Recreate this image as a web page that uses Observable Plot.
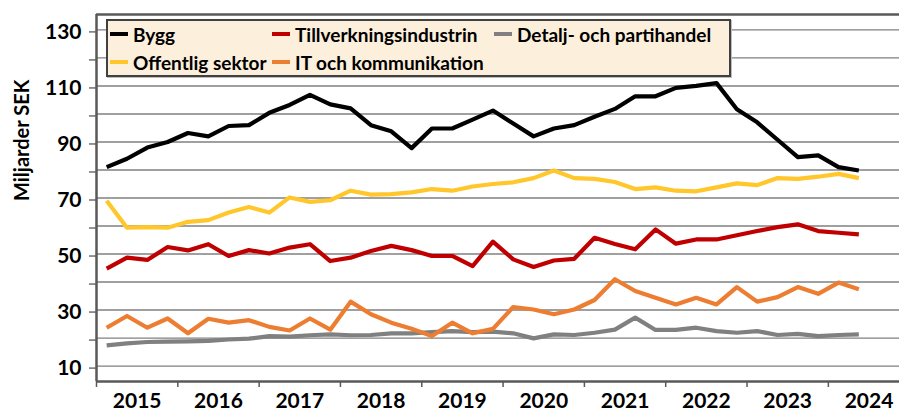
<!DOCTYPE html>
<html>
<head>
<meta charset="utf-8">
<script src="https://cdn.jsdelivr.net/npm/d3@7"></script>
<script src="https://cdn.jsdelivr.net/npm/@observablehq/plot@0.6"></script>
<style>
  html, body { margin: 0; padding: 0; background: #fff; }
  #wrap { position: relative; width: 899px; height: 411px; overflow: hidden; font-family: Lato, sans-serif; }
  #legend { position: absolute; left: 106px; top: 19px; width: 621px; height: 54px; background: #FCEFDB; border: 2px solid #404040; box-shadow: 1px 1px 0 #bdbdbd; }
  .item { position: absolute; display: flex; align-items: center; font-weight: bold; font-size: 19px; color: #000; white-space: nowrap; height: 24px; }
  .sw { width: 18px; height: 4px; margin-right: 5px; }
</style>
</head>
<body>
<div id="wrap"><div id="legend"></div></div>
<script>
// ---- data (quarterly, 2015 K1 – 2024 K2), miljarder SEK ----
const years = [2015, 2016, 2017, 2018, 2019, 2020, 2021, 2022, 2023, 2024];
const seriesNames = ["Bygg", "Tillverkningsindustrin", "Detalj- och partihandel", "Offentlig sektor", "IT och kommunikation"];
const seriesColors = ["#000000", "#C00000", "#808080", "#FFC72C", "#ED7D31"];

const bygg = [81.0, 84.0, 88.0, 90.0, 93.2, 92.0, 95.7, 96.0, 100.4, 103.2, 106.8, 103.4, 102.0, 96.0, 93.8, 87.8, 94.8, 94.8, 98.0, 101.2, 96.6, 92.0, 94.8, 96.0, 99.0, 101.8, 106.3, 106.3, 109.3, 110.0, 111.0, 101.7, 97.0, 90.8, 84.6, 85.2, 81.0, 79.8];
const tillverkning = [44.8, 48.7, 47.9, 52.5, 51.3, 53.5, 49.3, 51.4, 50.2, 52.3, 53.5, 47.5, 48.7, 51.1, 52.9, 51.4, 49.3, 49.3, 45.7, 54.4, 48.1, 45.4, 47.7, 48.3, 55.8, 53.6, 51.7, 58.8, 53.7, 55.2, 55.2, 56.7, 58.2, 59.6, 60.6, 58.2, 57.6, 57.0];
const detalj = [17.4, 18.1, 18.6, 18.7, 18.8, 19.0, 19.5, 19.8, 20.7, 20.5, 21.0, 21.3, 21.0, 21.1, 21.7, 21.7, 22.1, 22.5, 22.1, 22.3, 21.7, 19.9, 21.3, 21.1, 21.9, 23.0, 27.3, 22.9, 22.9, 23.7, 22.5, 21.9, 22.5, 21.1, 21.5, 20.7, 21.1, 21.3];
const offentlig = [69.0, 59.4, 59.6, 59.4, 61.5, 62.1, 64.8, 66.8, 64.8, 70.2, 68.6, 69.2, 72.6, 71.2, 71.4, 72.0, 73.2, 72.6, 74.1, 75.0, 75.6, 77.1, 79.8, 77.1, 76.8, 75.7, 73.2, 73.8, 72.6, 72.4, 73.8, 75.2, 74.6, 77.1, 76.8, 77.6, 78.6, 77.1];
const itkomm = [23.7, 27.9, 23.7, 27.0, 21.7, 26.9, 25.5, 26.4, 24.0, 22.7, 27.0, 23.0, 33.0, 28.5, 25.5, 23.3, 20.7, 25.5, 21.7, 23.3, 31.1, 30.2, 28.5, 30.2, 33.6, 41.0, 36.8, 34.4, 32.0, 34.4, 32.0, 38.2, 33.0, 34.6, 38.2, 35.8, 39.8, 37.4];

const yTicks = [10, 20, 30, 40, 50, 60, 70, 80, 90, 100, 110, 120, 130];
const yLabels = [10, 30, 50, 70, 90, 110, 130];

// ---- tidy table ----
const seriesValues = [bygg, tillverkning, detalj, offentlig, itkomm];
const rows = [];
seriesValues.forEach((vals, s) => vals.forEach((v, q) => rows.push({series: seriesNames[s], q: q + 0.5, v})));

const yearStarts = years.map((y, k) => k * 4);
const yearCenters = years.map((y, k) => k * 4 + 2);

const chart = Plot.plot({
  width: 899,
  height: 411,
  marginLeft: 96,
  marginRight: 0,
  marginTop: 14,
  marginBottom: 30,
  style: {fontFamily: "Lato, sans-serif", fontSize: "21px", fontWeight: "bold", color: "#000", background: "transparent", overflow: "visible"},
  x: {domain: [0, 39.5], axis: null},
  y: {domain: [4.5, 135.5], axis: null},
  color: {domain: seriesNames, range: seriesColors},
  marks: [
    Plot.ruleY(yTicks, {stroke: "#808080", strokeWidth: 1.4}),
    Plot.axisY(yTicks, {tickSize: 7, tickPadding: 8, dy: 2, stroke: "#595959", strokeWidth: 1.3, tickFormat: d => yLabels.includes(d) ? String(d) : "", label: null}),
    Plot.axisX(yearStarts, {tickSize: 6, stroke: "#595959", strokeWidth: 1.5, tickFormat: () => "", label: null}),
    Plot.axisX(yearCenters, {tickSize: 0, tickPadding: 12, tickFormat: (d, k) => String(years[k]), label: null}),
    Plot.ruleX([0], {stroke: "#595959", strokeWidth: 2.5}),
    Plot.ruleY([4.5], {stroke: "#595959", strokeWidth: 2.5}),
    Plot.ruleY([135.5], {stroke: "#595959", strokeWidth: 2.5}),
    Plot.text(["Miljarder SEK"], {frameAnchor: "left", dx: -74, dy: 3, rotate: -90, fontSize: 20, fontWeight: "bold", fill: "#000"}),
    Plot.lineY(rows, {x: "q", y: "v", z: "series", stroke: "series", strokeWidth: 4.2, strokeLinejoin: "round", strokeLinecap: "butt"})
  ]
});
document.getElementById("wrap").prepend(chart);

// ---- legend ----
const legend = document.getElementById("legend");
const colX = [2, 164, 386];
const rowY = [1, 29];
seriesNames.forEach((name, k) => {
  const col = k < 3 ? k : k - 3;
  const row = k < 3 ? 0 : 1;
  const it = document.createElement("div");
  it.className = "item";
  it.style.left = colX[col] + "px";
  it.style.top = rowY[row] + "px";
  const sw = document.createElement("span");
  sw.className = "sw";
  sw.style.background = seriesColors[k];
  const tx = document.createElement("span");
  tx.textContent = name;
  it.append(sw, tx);
  legend.append(it);
});
</script>
</body>
</html>
